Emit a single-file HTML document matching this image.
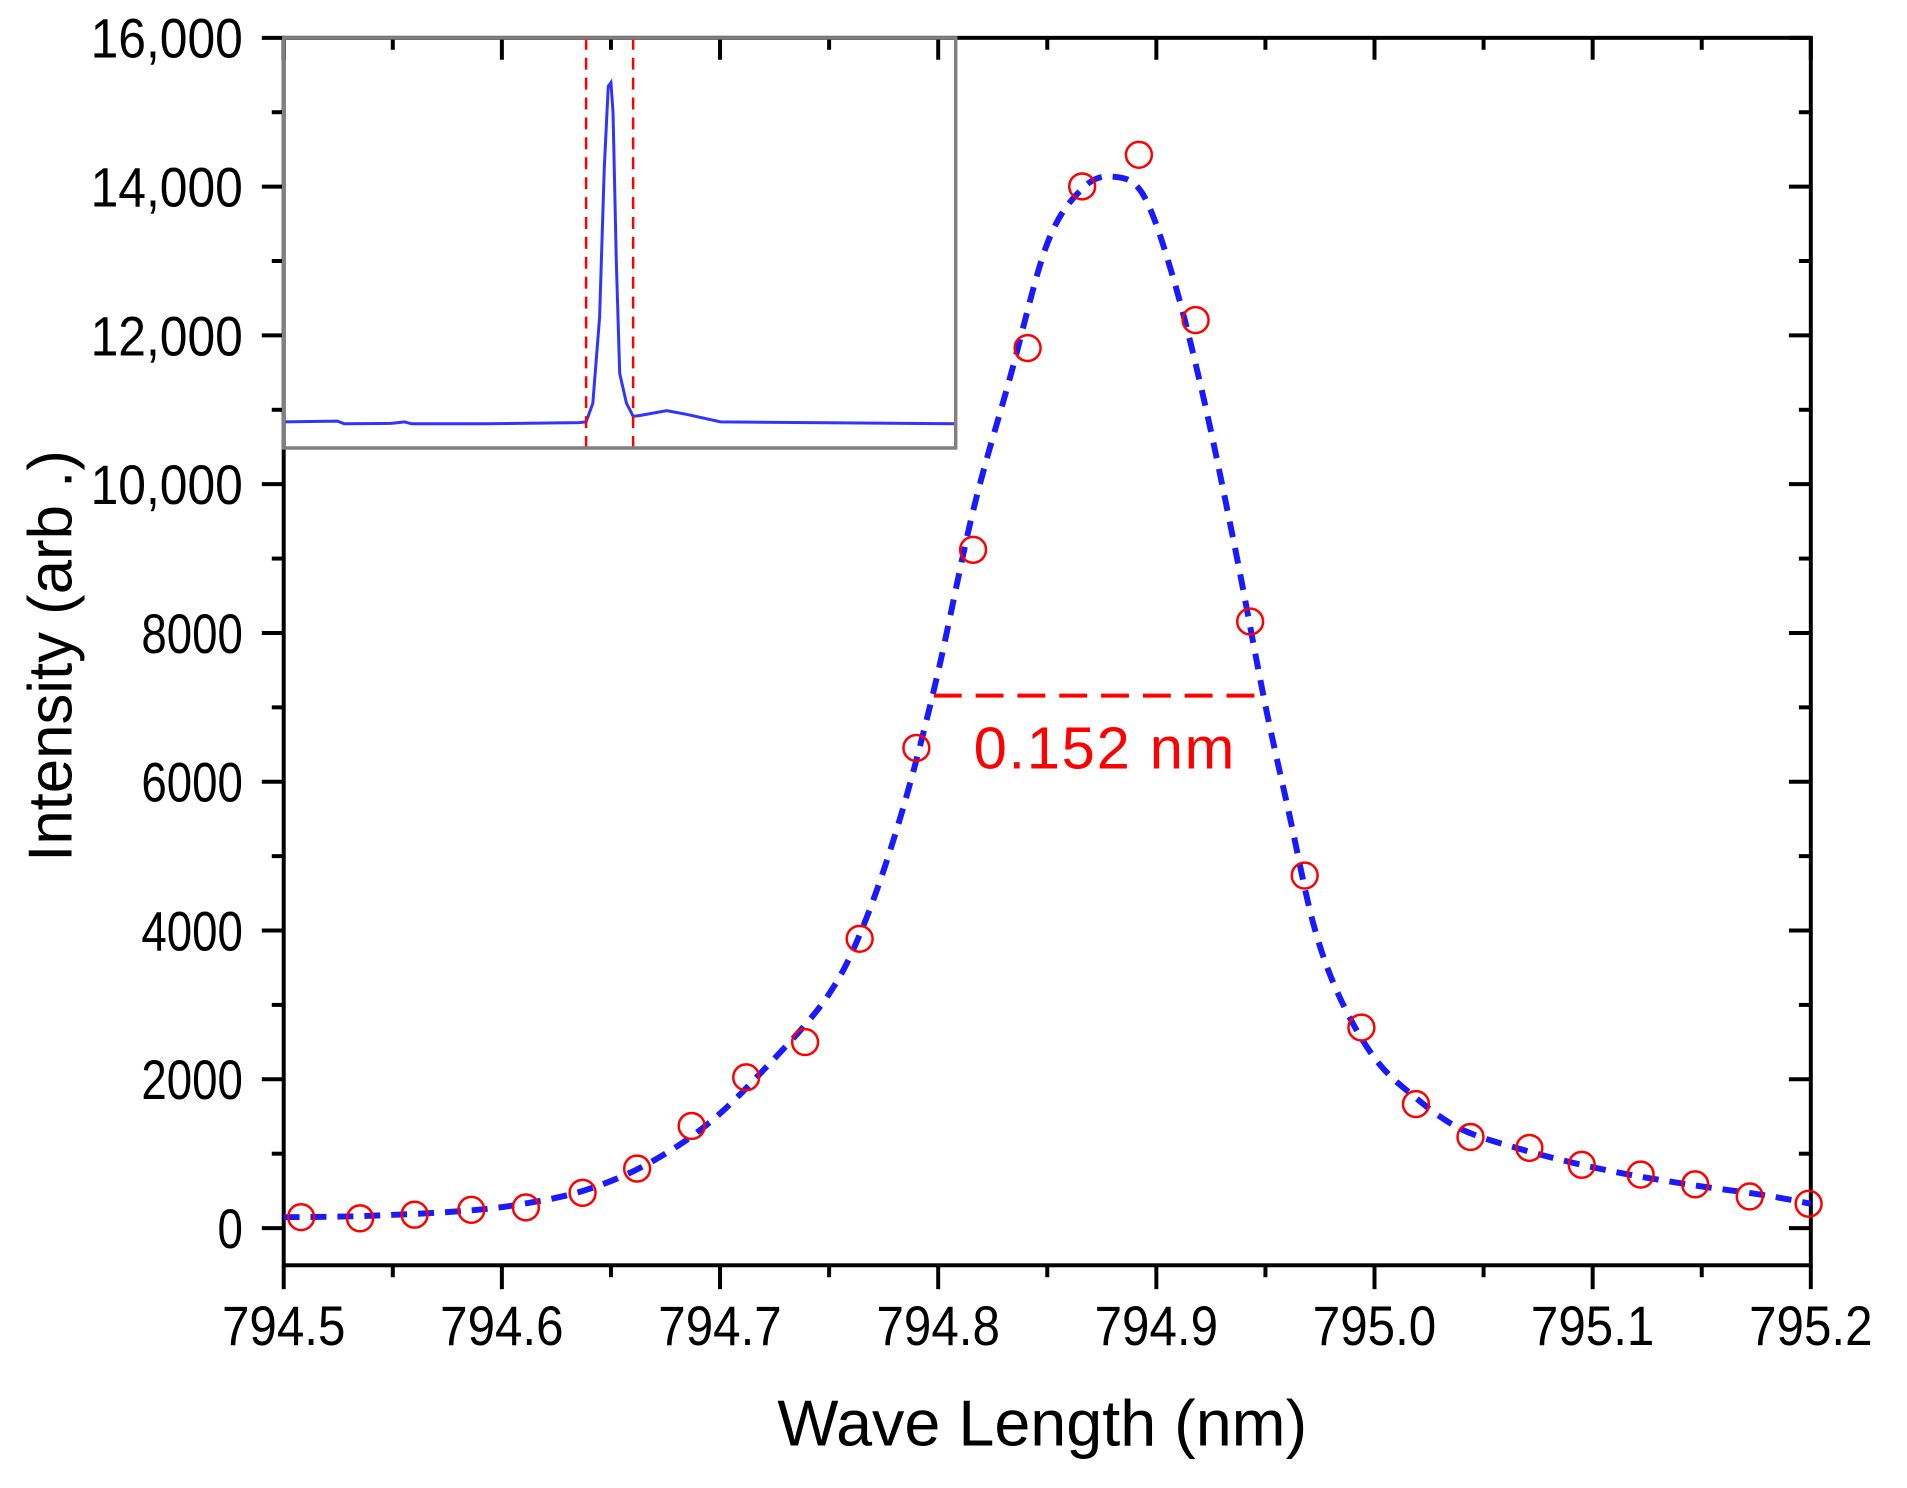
<!DOCTYPE html>
<html><head><meta charset="utf-8"><style>
html,body{margin:0;padding:0;background:#fff;}
svg{display:block;font-family:"Liberation Sans",Arial,sans-serif;}
</style></head><body>
<svg id="chart" width="1907" height="1488" viewBox="0 0 1907 1488" xmlns="http://www.w3.org/2000/svg">
<g transform="scale(0.9955)">
<g id="axes"></g>
<g id="series"></g>
<g id="inset"></g>
<text x="1047" y="1452" font-size="65" text-anchor="middle">Wave Length (nm)</text>
<text transform="translate(72,659) rotate(-90)" font-size="62" text-anchor="middle">Intensity (arb .)</text>
<text x="978" y="772" font-size="60" fill="#ff0000" textLength="262">0.152 nm</text>
</g>
</svg>
<script>
const xTicks = [794.5, 794.6, 794.7, 794.8, 794.9, 795.0, 795.1, 795.2];
const xTickLabels = ["794.5","794.6","794.7","794.8","794.9","795.0","795.1","795.2"];
const yTicks = [0, 2000, 4000, 6000, 8000, 10000, 12000, 14000, 16000];
const yTickLabels = ["0","2000","4000","6000","8000","10,000","12,000","14,000","16,000"];
const pointX = [794.508,794.535,794.560,794.586,794.611,794.637,794.662,794.687,794.712,794.739,794.764,794.790,794.816,794.841,794.866,794.892,794.918,794.943,794.968,794.994,795.019,795.044,795.071,795.095,795.122,795.147,795.172,795.199];
const pointY = [147,131,180,245,278,474,800,1373,2026,2500,3889,6454,9118,11830,14003,14428,12206,8154,4739,2696,1667,1225,1078,850,719,588,425,327];
const fitX = [794.500,794.537,794.582,794.610,794.638,794.666,794.694,794.721,794.749,794.766,794.783,794.799,794.816,794.833,794.850,794.866,794.880,794.894,794.908,794.922,794.936,794.950,794.961,794.972,794.984,795.000,795.017,795.039,795.067,795.095,795.123,795.151,795.179,795.200];
const fitY = [147,163,229,327,507,850,1389,2157,3105,4085,5556,7353,9641,11438,13235,13971,14134,13889,12745,11111,9150,7026,5556,4085,3105,2288,1797,1340,1062,850,686,556,441,327];
const fwhmStart = 794.798, fwhmEnd = 794.950, fwhmLevel = 7157;
const insetX = [0,0.08,0.09,0.16,0.18,0.19,0.3,0.44,0.45,0.46,0.47,0.477,0.483,0.487,0.49,0.495,0.5,0.51,0.52,0.53,0.57,0.6,0.65,1];
const insetY = [0.07,0.072,0.065,0.066,0.07,0.065,0.065,0.068,0.07,0.12,0.35,0.75,0.97,0.98,0.9,0.5,0.2,0.12,0.085,0.087,0.1,0.09,0.07,0.065];
const insetMarkers = [0.45, 0.52];

const NS = "http://www.w3.org/2000/svg";
const L=285,R=1819,T=38,B=1271;
const xMin=794.5,xMax=795.2,yMin=-500,yMax=16000;
function sx(v){return L+(v-xMin)/(xMax-xMin)*(R-L);}
function sy(v){return B-(v-yMin)/(yMax-yMin)*(B-T);}
function mk(tag,attrs,parent){const e=document.createElementNS(NS,tag);for(const k in attrs)e.setAttribute(k,attrs[k]);parent.appendChild(e);return e;}
function smooth(pts){
  let d='M'+pts[0][0].toFixed(1)+','+pts[0][1].toFixed(1);
  for(let i=0;i<pts.length-1;i++){
    const p0=pts[Math.max(0,i-1)],p1=pts[i],p2=pts[i+1],p3=pts[Math.min(pts.length-1,i+2)];
    const c1=[p1[0]+(p2[0]-p0[0])/6,p1[1]+(p2[1]-p0[1])/6];
    const c2=[p2[0]-(p3[0]-p1[0])/6,p2[1]-(p3[1]-p1[1])/6];
    d+='C'+c1[0].toFixed(1)+','+c1[1].toFixed(1)+' '+c2[0].toFixed(1)+','+c2[1].toFixed(1)+' '+p2[0].toFixed(1)+','+p2[1].toFixed(1);
  }
  return d;
}
const axes=document.getElementById('axes'),series=document.getElementById('series'),inset=document.getElementById('inset');

const frame=mk('rect',{x:L,y:T,width:R-L,height:B-T,fill:'none',stroke:'#000','stroke-width':4},axes);


for(let i=0;i<xTicks.length;i++){
  const x=sx(xTicks[i]);
  const t=mk('line',{x1:x,y1:B,x2:x,y2:B+24,stroke:'#000','stroke-width':4},axes);
  
  
  mk('line',{x1:x,y1:T,x2:x,y2:T+22,stroke:'#000','stroke-width':4},axes);
  const lb=mk('text',{x:x,y:B+80,'font-size':56,'text-anchor':'middle',textLength:124,lengthAdjust:'spacingAndGlyphs'},axes);
  lb.textContent=xTickLabels[i];
  
  
  if(i<xTicks.length-1){
    const xm=sx((xTicks[i]+xTicks[i+1])/2);
    mk('line',{x1:xm,y1:B,x2:xm,y2:B+12,stroke:'#000','stroke-width':4},axes);
    mk('line',{x1:xm,y1:T,x2:xm,y2:T+12,stroke:'#000','stroke-width':4},axes);
  }
}
for(let i=0;i<yTicks.length;i++){
  const y=sy(yTicks[i]);
  const t=mk('line',{x1:L-22,y1:y,x2:L,y2:y,stroke:'#000','stroke-width':4},axes);
  
  
  mk('line',{x1:R-22,y1:y,x2:R,y2:y,stroke:'#000','stroke-width':4},axes);
  const lab=yTickLabels[i];
  const lb=mk('text',{x:244,y:y+20,'font-size':56,'text-anchor':'end',textLength:lab.length*25.5,lengthAdjust:'spacingAndGlyphs'},axes);
  lb.textContent=lab;
  
  
  if(i<yTicks.length-1){
    const ym=sy(yTicks[i]+1000);
    mk('line',{x1:L-12,y1:ym,x2:L,y2:ym,stroke:'#000','stroke-width':4},axes);
    mk('line',{x1:R-12,y1:ym,x2:R,y2:ym,stroke:'#000','stroke-width':4},axes);
  }
}
const fitPts=fitX.map((v,i)=>[sx(v),sy(fitY[i])]);
const fit=mk('path',{d:smooth(fitPts),fill:'none',stroke:'#1a1aff','stroke-width':6,'stroke-dasharray':'16,11'},series);


for(let i=0;i<pointX.length;i++){
  const c=mk('circle',{cx:sx(pointX[i]),cy:sy(pointY[i]),r:13,fill:'none',stroke:'#ff0000','stroke-width':2.5},series);
  
  
}
const fw=mk('line',{x1:sx(fwhmStart),y1:sy(fwhmLevel),x2:sx(fwhmEnd),y2:sy(fwhmLevel),stroke:'#ff0000','stroke-width':4,'stroke-dasharray':'28,14'},series);


const IL=285,IR=960,IT=38,IB=450;
function ix(v){return IL+v*(IR-IL);}
function iy(v){return IB-v/1.1*(IB-IT);}
let di='';
for(let i=0;i<insetX.length;i++){di+=(i?'L':'M')+ix(insetX[i]).toFixed(1)+','+iy(insetY[i]).toFixed(1);}
const ic=mk('path',{d:di,fill:'none',stroke:'#3333ff','stroke-width':3},inset);


for(const m of insetMarkers){
  const ml=mk('line',{x1:ix(m),y1:IT,x2:ix(m),y2:IB,stroke:'#ff0000','stroke-width':2.5,'stroke-dasharray':'12,8'},inset);
  
  
}
const ib=mk('rect',{x:IL,y:IT,width:IR-IL,height:IB-IT,fill:'none',stroke:'#808080','stroke-width':3.5},inset);


</script>
</body></html>
